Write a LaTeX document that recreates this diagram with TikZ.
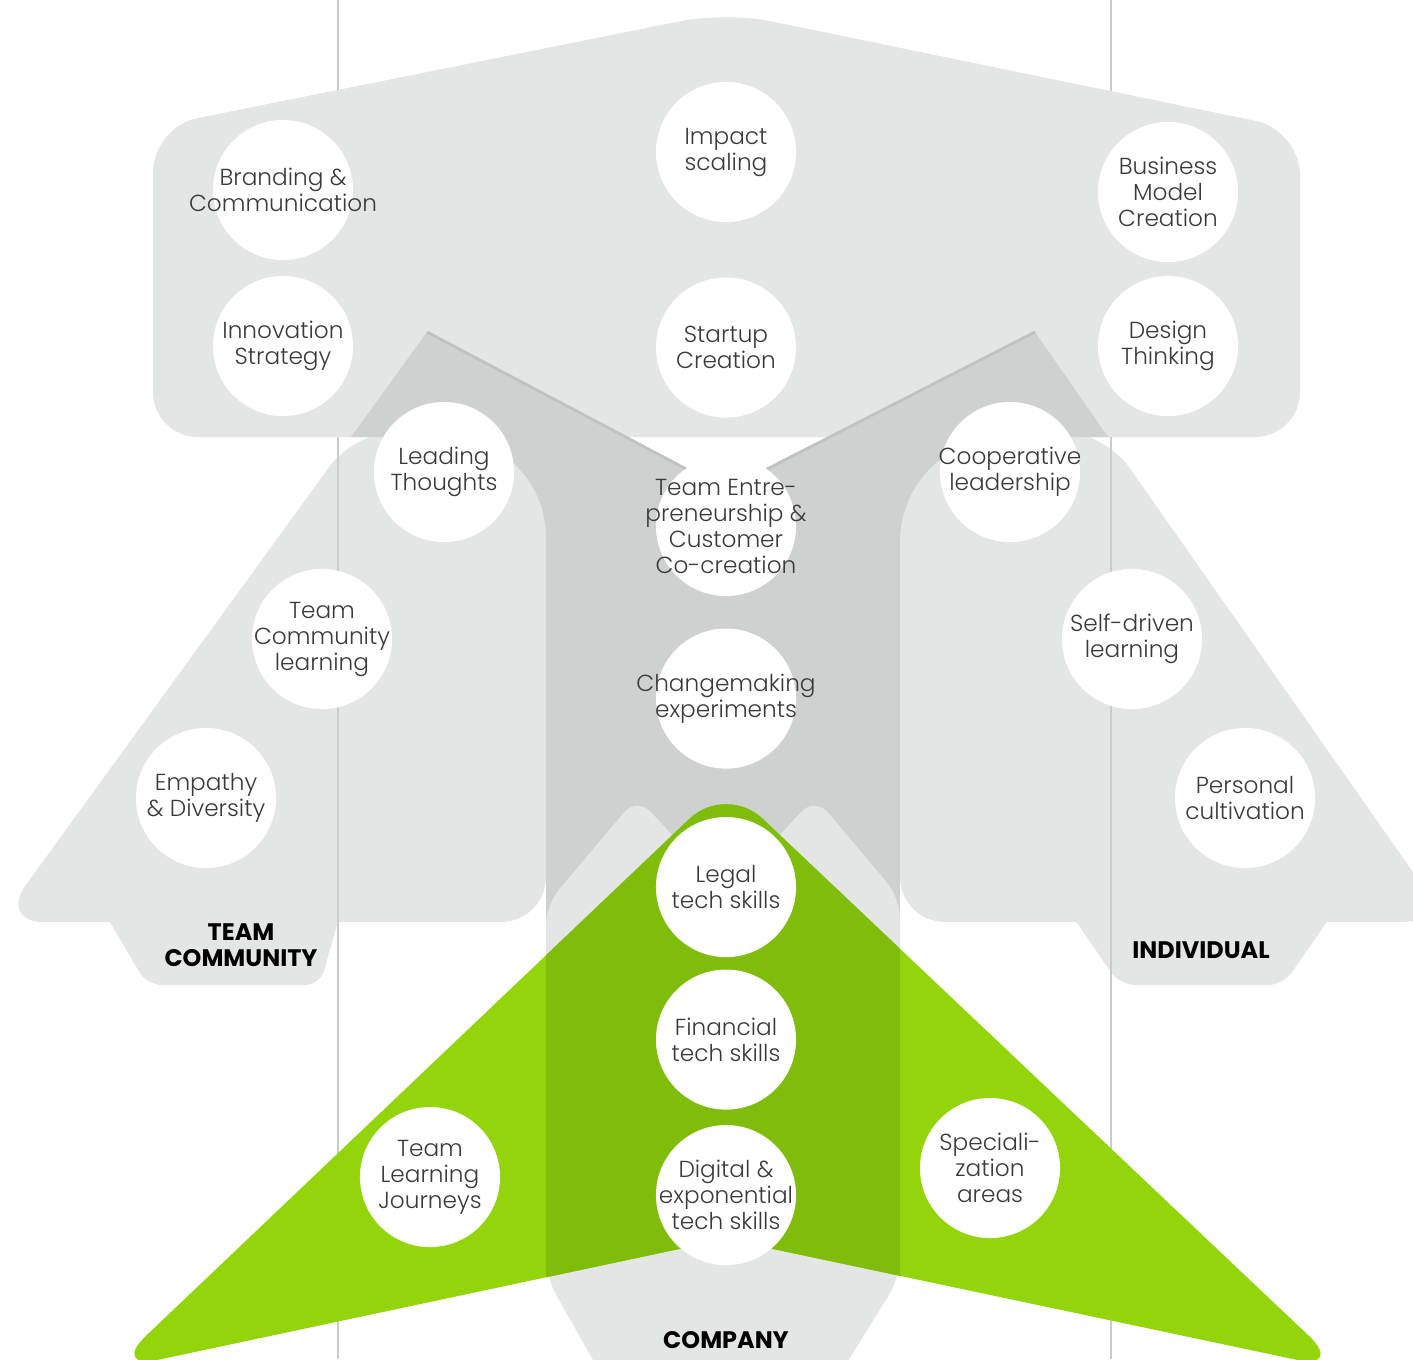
\documentclass[tikz,border=0pt]{standalone}
\usepackage{fontspec}
\setmainfont{Poppins}
\newfontfamily\thinfont{Poppins}[UprightFont={* Light}]
\usetikzlibrary{positioning}
\definecolor{shadelight}{HTML}{E4E5E5}
\definecolor{shadedark}{HTML}{CFD1D1}
\definecolor{shadeedge}{HTML}{C0C2C2}
\definecolor{guide}{HTML}{CBCBCB}
\definecolor{leaf}{HTML}{94D40B}
\definecolor{leafdark}{HTML}{80BD0B}
\definecolor{ink}{HTML}{3A3A3A}

\begin{document}
\begin{tikzpicture}[
  x=0.01cm, y=-0.01cm,
  node distance=0.3cm,
  skill/.style={circle, fill=white, minimum size=1.4cm, inner sep=0pt,
    label={[font=\thinfont\fontsize{6.6}{7.4}\selectfont, text=ink, align=center]center:#1}},
  group/.style={font=\bfseries\fontsize{6.8}{7.4}\selectfont, align=center, text=black},
  band/.style={fill=shadelight},
  guideline/.style={draw=guide, line width=0.45pt}
]
\useasboundingbox (0,0) rectangle (1413,1359);
\clip (0,0) rectangle (1413,1359);

% Guides (upper part, hidden by the top arrow)
\draw[guideline] (338,0) -- (338,300);
\draw[guideline] (1111,0) -- (1111,300);

% Top arrow
\fill[band, rounded corners=0.45cm] (726,12) -- (153,127) -- (153,437) -- (1300,437) -- (1300,130) -- cycle;

% Side arrows (Team community, Individual) and their tabs
\fill[band, rounded corners=0.45cm] (356,430) -- (546,430) -- (546,922) -- (-1,922) -- cycle;
\fill[band, rounded corners=0.15cm] (97,900) -- (344,900) -- (320,985) -- (147,985) -- cycle;
\fill[band, rounded corners=0.45cm] (1103,430) -- (1448,922) -- (900,922) -- (900,430) -- cycle;
\fill[band, rounded corners=0.15cm] (1061,900) -- (1342,900) -- (1283,985) -- (1120,985) -- cycle;

% Overlap of the arrows
\fill[shadedark] (427,332) -- (726,490) -- (1035,332) -- (1108,437) -- (1005,437)
  arc[start angle=90, end angle=180, radius=1.05cm] -- (900,1230) -- (546,1230) -- (546,537)
  arc[start angle=0, end angle=90, radius=1cm] -- (351,437) -- cycle;
\draw[shadeedge, line width=0.8pt] (427,332) -- (726,490) -- (1035,332);

% Guides (lower part)
\draw[guideline] (338,437) -- (338,1359);
\draw[guideline] (1111,437) -- (1111,1359);

% Company arrow
\fill[band, rounded corners=0.2cm] (546,905) -- (637,797) -- (700,865) -- (752,865) -- (815,797) -- (900,898) -- (900,1277) -- (830,1390) -- (610,1390) -- (546,1277) -- cycle;

% Green arrow
\fill[leaf, rounded corners=0.5cm] (726,1239) -- (110,1370) -- (726,784) -- (1345,1370) -- cycle;
\begin{scope}
  \clip (546,0) rectangle (900,1359);
  \fill[leafdark, rounded corners=0.5cm] (726,1239) -- (110,1370) -- (726,784) -- (1345,1370) -- cycle;
\end{scope}

% Top row
\node[skill={Branding \&\\Communication}] (branding) at (283,190) {};
\node[skill={Innovation\\Strategy}] (innovation) at (283,346) {};
\node[skill={Business\\Model\\Creation}] (business) at (1168,192) {};
\node[skill={Design\\Thinking}] (design) at (1168,346) {};

% Centre column
\node[skill={Impact\\scaling}] (impact) at (726,152) {};
\node[skill={Startup\\Creation}, below=0.54cm of impact] (startup) {};
\node[skill={Team Entre-\\preneurship \&\\Customer\\Co-creation}, below=0.37cm of startup] (teamentre) {};
\node[skill={Changemaking\\experiments}, below=0.31cm of teamentre] (changemaking) {};
\node[skill={Legal\\tech skills}, below=0.47cm of changemaking] (legal) {};
\node[skill={Financial\\tech skills}, below=0.11cm of legal] (financial) {};
\node[skill={Digital \&\\exponential\\tech skills}, below=0.14cm of financial] (digital) {};

% Team community side
\node[skill={Leading\\Thoughts}] (leading) at (444,472) {};
\node[skill={Team\\Community\\learning}] (teamcomm) at (322,639) {};
\node[skill={Empathy\\\& Diversity}] (empathy) at (206,798) {};
\node[skill={Team\\Learning\\Journeys}] (journeys) at (430,1177) {};

% Individual side
\node[skill={Cooperative\\leadership}] (cooperative) at (1010,472) {};
\node[skill={Self-driven\\learning}] (selfdriven) at (1132,639) {};
\node[skill={Personal\\cultivation}] (personal) at (1245,798) {};
\node[skill={Speciali-\\zation\\areas}] (special) at (990,1168) {};

% Group labels
\node[group] (teamlbl) at (241,945) {TEAM\\COMMUNITY};
\node[group] (indlbl) at (1201,950) {INDIVIDUAL};
\node[group] (complbl) at (726,1340) {COMPANY};

\end{tikzpicture}
\end{document}
